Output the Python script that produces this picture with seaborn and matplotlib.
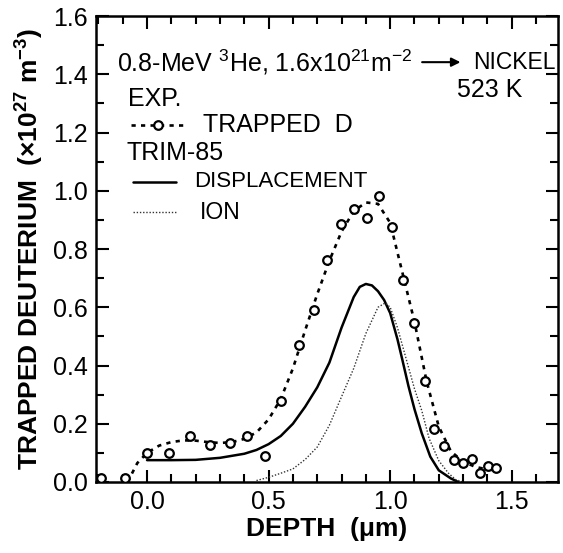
import matplotlib
matplotlib.use("Agg")
import matplotlib.pyplot as plt
import seaborn as sns
import pandas as pd
from matplotlib.ticker import MultipleLocator
from matplotlib.lines import Line2D
from matplotlib import font_manager

# Experimental trapped D points
exp_x = [-0.19, -0.09, 0.0, 0.09, 0.175, 0.26, 0.34, 0.413, 0.487, 0.55, 0.624, 0.686,
         0.741, 0.796, 0.851, 0.903, 0.955, 1.006, 1.054, 1.098, 1.143, 1.18, 1.222,
         1.264, 1.298, 1.335, 1.37, 1.404, 1.436]
exp_y = [0.013, 0.015, 0.10, 0.10, 0.157, 0.126, 0.135, 0.158, 0.089, 0.279, 0.47, 0.59,
         0.762, 0.886, 0.936, 0.905, 0.982, 0.875, 0.693, 0.547, 0.348, 0.181, 0.123,
         0.076, 0.064, 0.078, 0.032, 0.055, 0.047]

# Dashed guide curve through experimental data
fit_x = [-0.08, -0.04, 0.0, 0.05, 0.1, 0.15, 0.2, 0.25, 0.3, 0.35, 0.4, 0.45, 0.5, 0.55,
         0.6, 0.65, 0.7, 0.75, 0.8, 0.85, 0.9, 0.95, 1.0, 1.05, 1.1, 1.15, 1.2, 1.25,
         1.3, 1.35, 1.4, 1.44]
fit_y = [0.0, 0.065, 0.10, 0.125, 0.137, 0.143, 0.142, 0.137, 0.134, 0.137, 0.148, 0.17,
         0.215, 0.285, 0.39, 0.52, 0.645, 0.76, 0.86, 0.93, 0.96, 0.955, 0.89, 0.72,
         0.55, 0.345, 0.19, 0.105, 0.07, 0.052, 0.043, 0.04]

# TRIM-85 displacement profile
disp_x = [0.0, 0.1, 0.2, 0.3, 0.4, 0.45, 0.5, 0.55, 0.6, 0.65, 0.7, 0.75, 0.8, 0.85,
          0.875, 0.9, 0.925, 0.95, 0.975, 1.0, 1.03, 1.05, 1.075, 1.1, 1.13, 1.165,
          1.2, 1.25, 1.28]
disp_y = [0.075, 0.075, 0.076, 0.083, 0.097, 0.11, 0.13, 0.158, 0.2, 0.258, 0.325, 0.41,
          0.53, 0.635, 0.67, 0.68, 0.675, 0.655, 0.625, 0.58, 0.49, 0.42, 0.33, 0.25,
          0.167, 0.087, 0.04, 0.012, 0.0]

# TRIM-85 ion profile
ion_x = [0.45, 0.5, 0.55, 0.6, 0.65, 0.7, 0.75, 0.8, 0.85, 0.9, 0.95, 0.98, 1.0, 1.03,
         1.07, 1.1, 1.13, 1.16, 1.2, 1.24, 1.27, 1.3]
ion_y = [0.005, 0.016, 0.03, 0.045, 0.077, 0.12, 0.195, 0.293, 0.39, 0.51, 0.6, 0.615,
         0.60, 0.53, 0.41, 0.32, 0.245, 0.15, 0.073, 0.03, 0.008, 0.0]

x_ticks = [0.0, 0.5, 1.0, 1.5]
y_ticks = [0.0, 0.2, 0.4, 0.6, 0.8, 1.0, 1.2, 1.4, 1.6]

sns.set_theme(style="ticks")
plt.rcParams["font.family"] = ["Liberation Sans", "DejaVu Sans"]
plt.rcParams["mathtext.fontset"] = "custom"
plt.rcParams["mathtext.rm"] = "Liberation Sans"
plt.rcParams["mathtext.it"] = "Liberation Sans:italic"
plt.rcParams["mathtext.bf"] = "Liberation Sans:bold"
plt.rcParams["mathtext.default"] = "regular"

available = {f.name for f in font_manager.fontManager.ttflist}
if "Liberation Sans Narrow" in available:
    narrow_family = ["Liberation Sans Narrow", "DejaVu Sans"]
    narrow_size, nickel_size = 18.5, 18
else:
    narrow_family = ["Liberation Sans", "DejaVu Sans"]
    narrow_size, nickel_size = 16, 16.5

fig = plt.figure(figsize=(5.63, 5.53), dpi=100)
ax = fig.add_axes([0.1705, 0.1284, 0.8205, 0.8426])

exp_df = pd.DataFrame({"x": exp_x, "y": exp_y})
fit_df = pd.DataFrame({"x": fit_x, "y": fit_y})
disp_df = pd.DataFrame({"x": disp_x, "y": disp_y})
ion_df = pd.DataFrame({"x": ion_x, "y": ion_y})

dash_style = (0, (1.6, 2.0))
dot_style = (0, (1, 1.3))

sns.lineplot(data=fit_df, x="x", y="y", ax=ax, color="black", lw=1.9,
             linestyle=dash_style, estimator=None)
sns.lineplot(data=disp_df, x="x", y="y", ax=ax, color="black", lw=1.8, estimator=None)
sns.lineplot(data=ion_df, x="x", y="y", ax=ax, color="#333333", lw=1.0,
             linestyle=dot_style, estimator=None)
ax.plot(exp_df["x"], exp_df["y"], linestyle="none", marker="o", ms=6.2,
        mfc="white", mec="black", mew=1.6, zorder=5)

ax.set_xlim(-0.21, 1.69)
ax.set_ylim(0.0, 1.6)
ax.set_xticks(x_ticks)
ax.set_yticks(y_ticks)
ax.set_xticklabels([f"{v:.1f}" for v in x_ticks])
ax.set_yticklabels([f"{v:.1f}" for v in y_ticks])
ax.xaxis.set_minor_locator(MultipleLocator(0.1))
ax.yaxis.set_minor_locator(MultipleLocator(0.1))
ax.tick_params(which="both", direction="in", top=True, right=True, width=1.5,
               color="black", labelsize=18, labelcolor="black", pad=6)
ax.tick_params(which="major", length=9)
ax.tick_params(which="minor", length=6)
for s in ax.spines.values():
    s.set_linewidth(1.8)
    s.set_color("black")
    s.set_visible(True)

ax.set_xlabel("DEPTH  (μm)", fontsize=19, fontweight="bold", color="black", labelpad=2)
ax.set_ylabel(r"TRAPPED DEUTERIUM  (×10$^{\mathbf{27}}$ m$^{\mathbf{-3}}$)", fontsize=19,
              fontweight="bold", color="black", labelpad=5)

T = ax.transAxes
fs = 18
ax.text(0.0455, 0.901, r"0.8-MeV $^{3}$He, 1.6x10$^{21}$m$^{-2}$", transform=T,
        fontsize=fs, va="center", ha="left", color="black")
ax.annotate("", xy=(0.795, 0.901), xytext=(0.70, 0.901), xycoords=T, textcoords=T,
            arrowprops=dict(arrowstyle="-|>", color="black", lw=1.5, mutation_scale=13))
ax.text(0.816, 0.901, "NICKEL", transform=T, fontsize=nickel_size, va="center",
        ha="left", color="black", family=narrow_family)
ax.text(0.853, 0.841, "523 K", transform=T, fontsize=fs, va="center", ha="center",
        color="black")
ax.text(0.069, 0.822, "EXP.", transform=T, fontsize=fs, va="center", ha="left",
        color="black")
ax.text(0.232, 0.766, "TRAPPED  D", transform=T, fontsize=fs, va="center", ha="left",
        color="black")
ax.text(0.065, 0.706, "TRIM-85", transform=T, fontsize=fs, va="center", ha="left",
        color="black")
ax.text(0.212, 0.644, "DISPLACEMENT", transform=T, fontsize=narrow_size, va="center",
        ha="left", color="black", family=narrow_family)
ax.text(0.225, 0.579, "ION", transform=T, fontsize=16.5, va="center", ha="left",
        color="black")

ax.add_line(Line2D([0.076, 0.193], [0.766, 0.766], transform=T, color="black", lw=1.9,
                   linestyle=dash_style))
ax.add_line(Line2D([0.134], [0.766], transform=T, marker="o", ms=6.2, mfc="white",
                   mec="black", mew=1.6, linestyle="none"))
ax.add_line(Line2D([0.080, 0.173], [0.644, 0.644], transform=T, color="black", lw=1.8))
ax.add_line(Line2D([0.080, 0.173], [0.579, 0.579], transform=T, color="#333333", lw=1.0,
                   linestyle=dot_style))

fig.savefig("out.png", dpi=100, facecolor="white")
